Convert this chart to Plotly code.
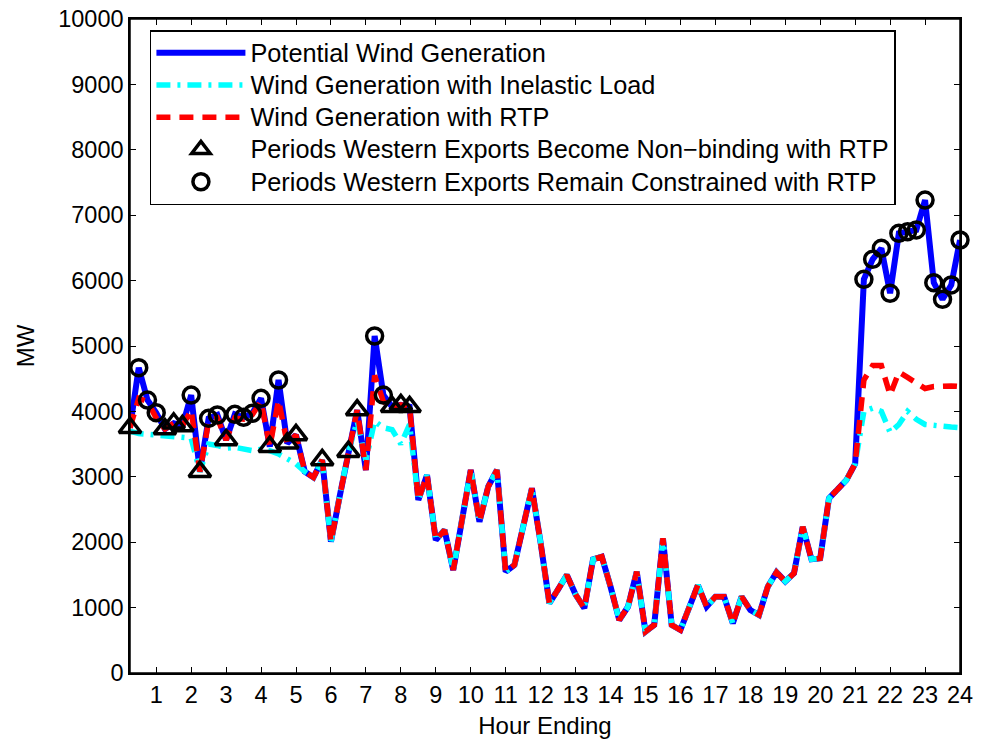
import plotly.graph_objects as go

hours = [
    0.25, 0.5, 0.75, 1.0, 1.25, 1.5, 1.75, 2.0,
    2.25, 2.5, 2.75, 3.0, 3.25, 3.5, 3.75, 4.0,
    4.25, 4.5, 4.75, 5.0, 5.25, 5.5, 5.75, 6.0,
    6.25, 6.5, 6.75, 7.0, 7.25, 7.5, 7.75, 8.0,
    8.25, 8.5, 8.75, 9.0, 9.25, 9.5, 9.75, 10.0,
    10.25, 10.5, 10.75, 11.0, 11.25, 11.5, 11.75, 12.0,
    12.25, 12.5, 12.75, 13.0, 13.25, 13.5, 13.75, 14.0,
    14.25, 14.5, 14.75, 15.0, 15.25, 15.5, 15.75, 16.0,
    16.25, 16.5, 16.75, 17.0, 17.25, 17.5, 17.75, 18.0,
    18.25, 18.5, 18.75, 19.0, 19.25, 19.5, 19.75, 20.0,
    20.25, 20.5, 20.75, 21.0, 21.25, 21.5, 21.75, 22.0,
    22.25, 22.5, 22.75, 23.0, 23.25, 23.5, 23.75, 24.0,
]

potential = [
    3750, 4668, 4174, 3980, 3730, 3818, 3777, 4250,
    3078, 3894, 3945, 3563, 3955, 3910, 3971, 4200,
    3460, 4480, 3512, 3640, 3080, 2990, 3257, 2008,
    2700, 3384, 4020, 3104, 5153, 4250, 4070, 4100,
    4070, 2645, 3027, 2033, 2187, 1575, 2340, 3104,
    2313, 2849, 3104, 1549, 1651, 2237, 2824, 1990,
    1066, 1280, 1498, 1200, 990, 1738, 1779, 1320,
    810, 1014, 1549, 631, 734, 2060, 734, 657,
    1025, 1345, 1014, 1167, 1167, 760, 1167, 963,
    887, 1320, 1540, 1400, 1525, 2237, 1740, 1754,
    2670, 2825, 2950, 3200, 6020, 6326, 6494, 5806,
    6723, 6748, 6774, 7232, 5968, 5714, 5933, 6621,
]

inelastic = [
    3700, 3660, 3650, 3640, 3620, 3620, 3600, 3590,
    3078, 3500, 3480, 3440, 3450, 3420, 3400, 3420,
    3400, 3350, 3280, 3200, 3080, 2990, 3257, 2008,
    2700, 3384, 3850, 3250, 3850, 3750, 3720, 3500,
    3800, 2645, 3027, 2033, 2187, 1575, 2340, 3104,
    2313, 2849, 3104, 1549, 1651, 2237, 2824, 1990,
    1066, 1280, 1498, 1200, 990, 1738, 1779, 1320,
    810, 1014, 1549, 631, 734, 2060, 734, 657,
    1025, 1345, 1014, 1167, 1167, 760, 1167, 963,
    887, 1320, 1540, 1400, 1525, 2237, 1740, 1754,
    2670, 2825, 2950, 3200, 4000, 4050, 4000, 3680,
    3800, 4000, 3880, 3800, 3780, 3770, 3760, 3750,
]

rtp = [
    3750, 4200, 4150, 3900, 3730, 3818, 3777, 4020,
    3078, 3850, 3900, 3563, 3900, 3880, 3950, 4150,
    3460, 4170, 3512, 3640, 3080, 2990, 3257, 2008,
    2700, 3384, 4020, 3104, 4550, 4150, 4070, 4100,
    4070, 2645, 3027, 2033, 2187, 1575, 2340, 3104,
    2313, 2849, 3104, 1549, 1651, 2237, 2824, 1990,
    1066, 1280, 1498, 1200, 990, 1738, 1779, 1320,
    810, 1014, 1549, 631, 734, 2060, 734, 657,
    1025, 1345, 1014, 1167, 1167, 760, 1167, 963,
    887, 1320, 1540, 1400, 1525, 2237, 1740, 1754,
    2670, 2825, 2950, 3200, 4480, 4700, 4700, 4250,
    4600, 4520, 4430, 4350, 4380, 4390, 4390, 4380,
]

nonbinding_hours = [0.25, 1.25, 1.5, 1.75, 2.25, 3.0, 4.25, 4.75, 5.0,
                    5.75, 6.5, 6.75, 7.75, 8.0, 8.25]
constrained_hours = [0.5, 0.75, 1.0, 2.0, 2.5, 2.75, 3.25, 3.5, 3.75, 4.0,
                     4.5, 7.25, 7.5, 21.25, 21.5, 21.75, 22.0, 22.25, 22.5,
                     22.75, 23.0, 23.25, 23.5, 23.75, 24.0]

series_names = [
    "Potential Wind Generation",
    "Wind Generation with Inelastic Load",
    "Wind Generation with RTP",
    "Periods Western Exports Become Non\u2212binding with RTP",
    "Periods Western Exports Remain Constrained with RTP",
]

x_ticks = list(range(1, 25))
y_ticks = list(range(0, 10001, 1000))

lookup = dict(zip(hours, potential))
nb_y = [lookup[h] for h in nonbinding_hours]
cs_y = [lookup[h] for h in constrained_hours]

FONT = "Liberation Sans, Arial, Helvetica, sans-serif"


def legend_label(s):
    # glyphs wider than the legend row height implies (as in the reference)
    return '<span style="font-size:25.3px">' + s + "</span>"


fig = go.Figure()
fig.add_trace(go.Scatter(
    x=hours, y=potential, mode="lines", name=legend_label(series_names[0]),
    line=dict(color="#0000ff", width=6), cliponaxis=False))
fig.add_trace(go.Scatter(
    x=hours, y=inelastic, mode="lines", name=legend_label(series_names[1]),
    line=dict(color="#00ffff", width=5.5, dash="14px,7px,3px,7px"), cliponaxis=False))
fig.add_trace(go.Scatter(
    x=hours, y=rtp, mode="lines", name=legend_label(series_names[2]),
    line=dict(color="#ff0000", width=5.5, dash="14px,9px"), cliponaxis=False))
fig.add_trace(go.Scatter(
    x=nonbinding_hours, y=nb_y, mode="markers", name=legend_label(series_names[3]),
    marker=dict(symbol="triangle-up-open", size=19, color="black",
                line=dict(color="black", width=3.5)), cliponaxis=False))
fig.add_trace(go.Scatter(
    x=constrained_hours, y=cs_y, mode="markers", name=legend_label(series_names[4]),
    marker=dict(symbol="circle-open", size=16, color="black",
                line=dict(color="black", width=3.5)), cliponaxis=False))

axis_common = dict(
    showgrid=False, zeroline=False, showline=True, linecolor="black",
    linewidth=1.5, mirror="ticks", ticks="inside", ticklen=6,
    tickcolor="black", tickwidth=1, automargin=False,
    tickfont=dict(family=FONT, size=23.5, color="black"),
)

fig.update_xaxes(range=[0.25, 24], tickvals=x_ticks,
                 ticktext=[str(t) for t in x_ticks],
                 title=dict(text="Hour Ending", standoff=10,
                            font=dict(family=FONT, size=24, color="black")),
                 **axis_common)
fig.update_yaxes(range=[0, 10000], tickvals=y_ticks,
                 ticktext=[str(t) for t in y_ticks],
                 title=dict(text="MW", standoff=17,
                            font=dict(family=FONT, size=24, color="black")),
                 **axis_common)

# axes box (Matlab "box on") around the plotting area
fig.add_shape(type="rect", xref="paper", yref="paper", x0=0, x1=1, y0=0, y1=1,
              line=dict(color="black", width=1.5), fillcolor="rgba(0,0,0,0)",
              layer="above")

fig.update_layout(
    width=981, height=744,
    margin=dict(l=130, r=21, t=19, b=71),
    paper_bgcolor="white", plot_bgcolor="white",
    font=dict(family=FONT, size=24, color="black"),
    showlegend=True,
    legend=dict(
        x=0.024, y=0.983, xanchor="left", yanchor="top",
        bgcolor="white", bordercolor="black", borderwidth=1.5,
        font=dict(family=FONT, size=22.5, color="black"),
        itemwidth=89, tracegroupgap=0,
    ),
)

fig.write_html("out.html", config={"displayModeBar": False},
               post_script="document.body.style.margin='0px';")
